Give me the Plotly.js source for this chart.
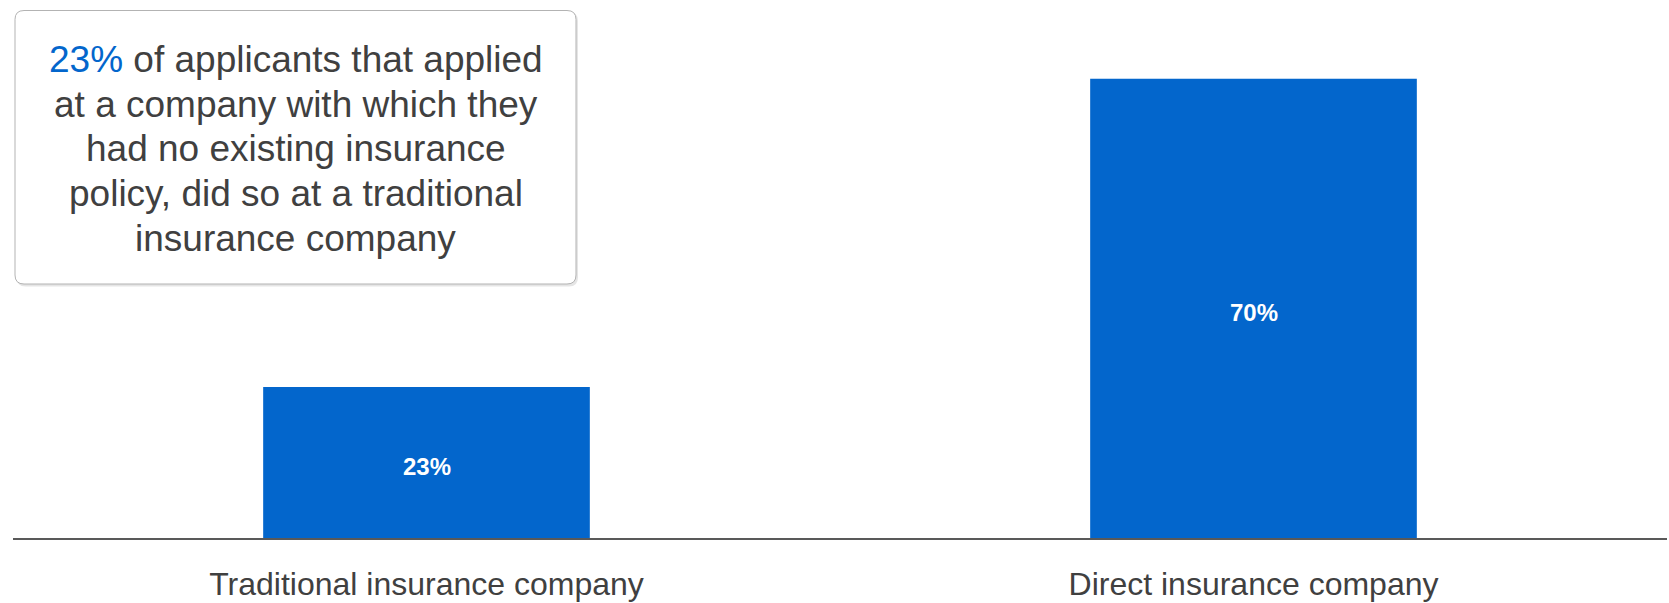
<!DOCTYPE html>
<html>
<head>
<meta charset="utf-8">
<script src="https://cdn.plot.ly/plotly-3.0.1.min.js"></script>
<style>html,body{margin:0;padding:0;background:#fff;}#chart{width:1669px;height:603px;}</style>
</head>
<body>
<div id="chart"></div>
<script>
// Data
const categories = ["Traditional insurance company", "Direct insurance company"];
const values = [23, 70];
const calloutLines = [
  " of applicants that applied",
  "at a company with which they",
  "had no existing insurance",
  "policy, did so at a traditional",
  "insurance company"
];

const BLUE = "#0366cc";
const TEXT = "#404040";
const FONT = "Liberation Sans, Arial, sans-serif";

const W = 1669, H = 603;
const M = {l: 13, r: 2, t: 46, b: 65};
const PW = W - M.l - M.r, PH = H - M.t - M.b;
const px2x = p => (p - M.l) / PW;
const py2y = p => (H - M.b - p) / PH;

function roundRect(x0, y0, x1, y1, r) {
  const X = px2x, Y = py2y;
  const rx = r / PW, ry = r / PH;
  const a = X(x0), b = X(x1), top = Y(y0), bot = Y(y1);
  return `M ${a+rx},${top} L ${b-rx},${top} Q ${b},${top} ${b},${top-ry} ` +
         `L ${b},${bot+ry} Q ${b},${bot} ${b-rx},${bot} L ${a+rx},${bot} ` +
         `Q ${a},${bot} ${a},${bot+ry} L ${a},${top-ry} Q ${a},${top} ${a+rx},${top} Z`;
}

const lineTexts = calloutLines.map((t, i) =>
  i === 0 ? `<span style="color:${BLUE}">${values[0]}%</span>` + t : t);

const LINE0 = 59.5, LINESTEP = 44.7;
const calloutAnnots = lineTexts.map((t, i) => ({
  xref: "paper", yref: "paper", x: px2x(295.5), y: py2y(LINE0 + i * LINESTEP),
  xanchor: "center", yanchor: "middle", showarrow: false, align: "center",
  text: t, font: {family: FONT, size: 37, color: TEXT}
}));

// value labels centred in each bar (data coordinates)
const valueAnnots = categories.map((c, i) => ({
  xref: "x", yref: "y", x: c, y: values[i] / 2, yshift: -4,
  xanchor: "center", yanchor: "middle", showarrow: false,
  text: `<b>${values[i]}%</b>`,
  font: {family: FONT, size: 24, color: "#ffffff"}
}));

const trace = {
  type: "bar",
  x: categories,
  y: values,
  width: 0.395,
  marker: {color: BLUE},
  hoverinfo: "skip"
};

const layout = {
  width: W, height: H,
  margin: M,
  paper_bgcolor: "#ffffff",
  plot_bgcolor: "#ffffff",
  showlegend: false,
  xaxis: {
    type: "category",
    showline: true, linecolor: "#595959", linewidth: 2,
    ticks: "", showgrid: false, zeroline: false,
    tickfont: {family: FONT, size: 32, color: TEXT},
    ticklabelstandoff: 17
  },
  yaxis: {
    range: [0, 75], visible: false, showgrid: false, zeroline: false
  },
  shapes: [
    {type: "path", xref: "paper", yref: "paper", layer: "above",
     path: roundRect(16.5, 12, 578, 286.5, 9),
     fillcolor: "rgba(0,0,0,0.10)", line: {width: 0}},
    {type: "path", xref: "paper", yref: "paper", layer: "above",
     path: roundRect(15, 10.5, 576, 284, 9),
     fillcolor: "#ffffff", line: {color: "#b3b3b3", width: 1}}
  ],
  annotations: calloutAnnots.concat(valueAnnots)
};

Plotly.newPlot("chart", [trace], layout, {displayModeBar: false, staticPlot: true});
</script>
</body>
</html>
